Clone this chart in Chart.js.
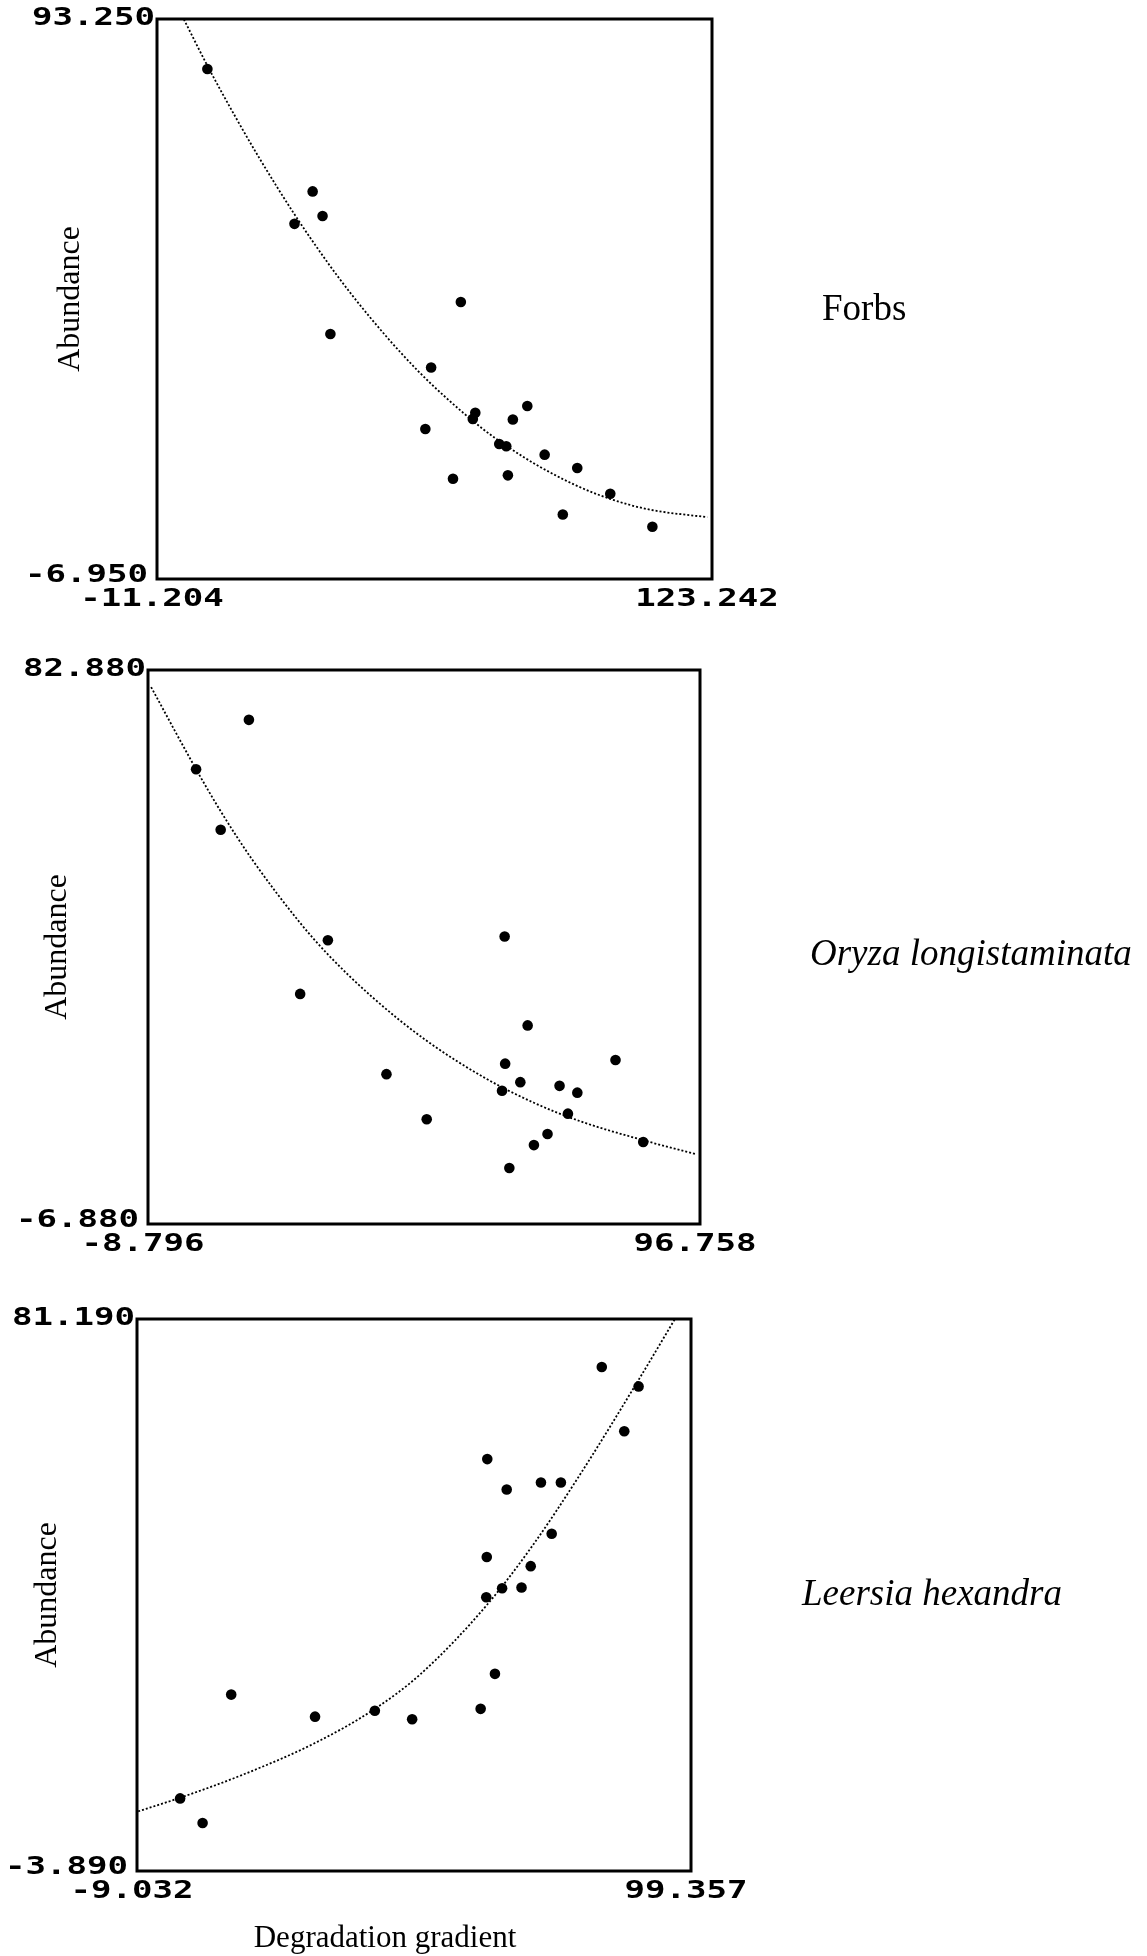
<!DOCTYPE html>
<html><head><meta charset="utf-8">
<script src="https://cdn.jsdelivr.net/npm/chart.js@4.4.1/dist/chart.umd.min.js"></script>
<style>
html,body{margin:0;padding:0;background:#fff;}
body{width:1147px;height:1956px;position:relative;overflow:hidden;}
canvas{position:absolute;left:0;}
</style></head><body>
<canvas id="c1" width="1147" height="640" style="top:0px"></canvas>
<canvas id="c2" width="1147" height="640" style="top:640px"></canvas>
<canvas id="c3" width="1147" height="676" style="top:1280px"></canvas>
<script>
// ---------- DATA ----------
// Panel 1: Forbs
const forbsX = [1.0, 26.5, 28.9, 22.1, 30.8, 62.4, 55.2, 53.8, 65.9, 65.3, 78.5, 75.0, 71.7, 73.4, 82.7, 90.6, 60.5, 73.8, 98.6, 87.1, 108.8];
const forbsY = [84.3, 62.4, 58.0, 56.6, 36.9, 42.6, 30.9, 19.9, 22.8, 21.7, 24.0, 21.6, 17.2, 16.8, 15.3, 12.9, 11.0, 11.6, 8.3, 4.6, 2.4];
const forbsFitX = [-4.7, 1.0, 7.9, 13.8, 22.1, 30.2, 36.1, 44.4, 52.0, 58.5, 67.9, 73.8, 80.9, 90.3, 98.5, 107.9, 122.1];
const forbsFitY = [93.2, 84.9, 75.6, 68.1, 58.3, 49.6, 43.8, 36.4, 30.3, 25.7, 19.8, 16.7, 13.4, 9.8, 7.4, 5.5, 4.1];
const forbsXTicks = ['-11.204', '123.242'];
const forbsYTicks = ['-6.950', '93.250'];

// Panel 2: Oryza longistaminata
const oryzaX = [10.5, 0.4, 5.1, 25.6, 20.3, 59.4, 63.8, 59.5, 80.6, 36.8, 62.4, 58.9, 69.9, 73.3, 71.5, 44.5, 67.6, 65.0, 85.9, 60.3];
const oryzaY = [74.8, 66.8, 57.0, 39.1, 30.4, 39.7, 25.3, 19.1, 19.7, 17.4, 16.1, 14.7, 15.5, 14.4, 11.0, 10.1, 7.7, 5.9, 6.4, 2.2];
const oryzaFitX = [-8.2, 0.4, 5.1, 11.1, 20.3, 25.6, 34.2, 44.5, 55.6, 64.9, 74.1, 85.9, 96.1];
const oryzaFitY = [80.1, 66.8, 60.0, 52.2, 41.9, 36.8, 29.8, 22.8, 16.8, 12.8, 9.7, 6.7, 4.4];
const oryzaXTicks = ['-8.796', '96.758'];
const oryzaYTicks = ['-6.880', '82.880'];

// Panel 3: Leersia hexandra
const leersiaX = [81.9, 89.1, 86.3, 59.5, 63.3, 70.0, 73.9, 72.1, 59.4, 68.0, 62.4, 66.2, 59.3, 61.0, 9.4, 25.8, 37.5, 44.8, 58.2, -0.6, 3.8];
const leersiaY = [73.8, 70.8, 63.9, 59.6, 54.9, 56.0, 56.0, 48.1, 44.5, 43.1, 39.7, 39.8, 38.3, 26.5, 23.3, 19.9, 20.8, 19.5, 21.1, 7.3, 3.5];
const leersiaFitX = [-8.8, -0.6, 11.5, 25.7, 37.5, 46.5, 59.3, 68.3, 77.8, 89.1, 97.2];
const leersiaFitY = [5.3, 7.4, 10.9, 15.8, 21.1, 26.5, 37.0, 46.2, 57.4, 71.8, 82.5];
const leersiaXTicks = ['-9.032', '99.357'];
const leersiaYTicks = ['-3.890', '81.190'];

const yTitle = 'Abundance';
const xTitle = 'Degradation gradient';
const speciesNames = ['Forbs', 'Oryza longistaminata', 'Leersia hexandra'];

// ---------- RENDERING ----------
function pts(xs, ys) { return xs.map((x, i) => ({x: x, y: ys[i]})); }

function stretched(ctx, text, x, y, align) {
  ctx.save();
  ctx.translate(x, y);
  ctx.scale(1.42, 1);
  ctx.textAlign = align;
  ctx.fillText(text, 0, 0);
  ctx.restore();
}

const decor = {
  id: 'decor',
  afterDatasetsDraw(chart, args, o) {
    const ctx = chart.ctx, a = chart.chartArea;
    const xs = chart.scales.x, ys = chart.scales.y;
    ctx.save();
    ctx.strokeStyle = '#000';
    ctx.lineWidth = 3;
    ctx.strokeRect(a.left, a.top, a.right - a.left, a.bottom - a.top);
    ctx.fillStyle = '#000';
    ctx.font = 'bold 24px "DejaVu Sans Mono"';
    ctx.textBaseline = 'middle';
    stretched(ctx, o.yTicks[1], a.left - 2, ys.getPixelForValue(ys.max), 'right');
    stretched(ctx, o.yTicks[0], a.left - 9, ys.getPixelForValue(ys.min) - 3, 'right');
    stretched(ctx, o.xTicks[0], xs.getPixelForValue(xs.min) - 5, a.bottom + 21, 'center');
    stretched(ctx, o.xTicks[1], xs.getPixelForValue(xs.max) - 5, a.bottom + 21, 'center');

    const midY = (a.top + a.bottom) / 2;
    // y title
    ctx.save();
    ctx.font = '32px "Liberation Serif"';
    ctx.translate(a.left - o.yTitleDx, midY);
    ctx.rotate(-Math.PI / 2);
    ctx.textAlign = 'center';
    ctx.textBaseline = 'middle';
    ctx.fillText(o.yTitle, 0, 0);
    ctx.restore();

    // species label
    ctx.font = (o.italic ? 'italic ' : '') + '37px "Liberation Serif"';
    ctx.textAlign = 'left';
    ctx.textBaseline = 'alphabetic';
    ctx.fillText(o.species, o.speciesX, midY + o.speciesDy);

    if (o.xTitle) {
      ctx.font = '31px "Liberation Serif"';
      ctx.textAlign = 'center';
      ctx.fillText(o.xTitle, o.xTitleX, o.xTitleY);
    }
    ctx.restore();
  }
};

function makeChart(id, sx, sy, fx, fy, xTicks, yTicks, pad, deco) {
  const xMin = parseFloat(xTicks[0]), xMax = parseFloat(xTicks[1]);
  const yMin = parseFloat(yTicks[0]), yMax = parseFloat(yTicks[1]);
  return new Chart(document.getElementById(id), {
    type: 'scatter',
    data: {
      datasets: [
        {
          type: 'scatter',
          data: pts(sx, sy),
          pointRadius: 5.3,
          pointBackgroundColor: '#000',
          pointBorderColor: '#000',
          pointBorderWidth: 0,
          order: 0
        },
        {
          type: 'line',
          data: pts(fx, fy),
          borderColor: '#000',
          borderWidth: 1.8,
          borderDash: [2, 2],
          pointRadius: 0,
          fill: false,
          cubicInterpolationMode: 'monotone',
          order: 1
        }
      ]
    },
    options: {
      responsive: false,
      animation: false,
      devicePixelRatio: 1,
      layout: {padding: pad},
      plugins: {
        legend: {display: false},
        tooltip: {enabled: false},
        decor: Object.assign({xTicks: xTicks, yTicks: yTicks, yTitle: yTitle}, deco)
      },
      scales: {
        x: {type: 'linear', min: xMin, max: xMax, display: false},
        y: {type: 'linear', min: yMin, max: yMax, display: false}
      }
    },
    plugins: [decor]
  });
}

makeChart('c1', forbsX, forbsY, forbsFitX, forbsFitY, forbsXTicks, forbsYTicks,
  {left: 157, right: 435, top: 19, bottom: 61},
  {species: speciesNames[0], italic: false, speciesX: 822, speciesDy: 21, yTitleDx: 86});

makeChart('c2', oryzaX, oryzaY, oryzaFitX, oryzaFitY, oryzaXTicks, oryzaYTicks,
  {left: 148, right: 447, top: 30, bottom: 56},
  {species: speciesNames[1], italic: true, speciesX: 810, speciesDy: 18, yTitleDx: 90});

makeChart('c3', leersiaX, leersiaY, leersiaFitX, leersiaFitY, leersiaXTicks, leersiaYTicks,
  {left: 137, right: 456, top: 39, bottom: 85},
  {species: speciesNames[2], italic: true, speciesX: 802, speciesDy: 10, yTitleDx: 89,
   xTitle: xTitle, xTitleX: 385, xTitleY: 667});
</script>
</body></html>
